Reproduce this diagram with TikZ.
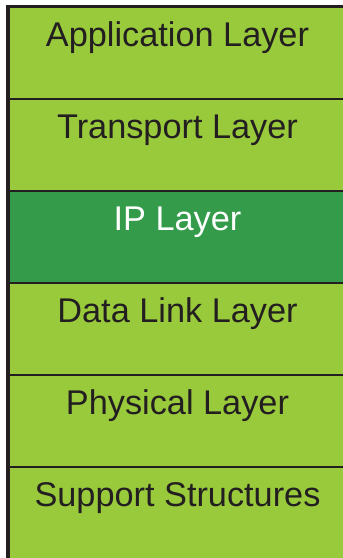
\documentclass[tikz,border=0pt]{standalone}
\usepackage{fontspec}
\setmainfont{Liberation Sans}
\usetikzlibrary{positioning}
\definecolor{layergreen}{RGB}{153,202,60}
\definecolor{ipgreen}{RGB}{51,155,74}
\definecolor{inkline}{RGB}{35,31,32}
\begin{document}
\begin{tikzpicture}[x=1pt,y=1pt,
    layer/.style={draw=inkline, line width=1.5pt, fill=layergreen, rectangle,
      minimum width=345pt, minimum height=92pt, outer sep=0pt, inner sep=0pt},
    layertext/.style={text=inkline, font=\fontsize{34.3}{40}\selectfont, inner sep=0pt, anchor=base},
    node distance=0pt]
    \useasboundingbox (0,0) rectangle (343,-558);
    \begin{scope}
    \clip (0,0) rectangle (343,-558);
    % Schichten
    \node[layer, anchor=north west] (app) at (8,-7) {};
    \node[layer, below=of app] (trans) {};
    \node[layer, below=of trans, fill=ipgreen] (ip) {};
    \node[layer, below=of ip] (link) {};
    \node[layer, below=of link] (phys) {};
    \node[layer, below=of phys] (supp) {};
    % Rahmen
    \draw[inkline, line width=4pt] (app.north west) ++(0,1.5) -- (supp.south west);
    \draw[inkline, line width=3pt] ([xshift=-2pt]app.north west) ++(0,0.5) -- ([yshift=0.5pt]app.north east);
    \end{scope}
    % Beschriftung
    \node[layertext] (apptext) at ([xshift=-3pt,yshift=-39pt]app.north) {Application Layer};
    \node[layertext] (transtext) at ([xshift=-3pt,yshift=-39pt]trans.north) {Transport Layer};
    \node[layertext, text=white] (iptext) at ([xshift=-3pt,yshift=-39pt]ip.north) {IP Layer};
    \node[layertext] (linktext) at ([xshift=-3pt,yshift=-39pt]link.north) {Data Link Layer};
    \node[layertext] (physttext) at ([xshift=-3pt,yshift=-39pt]phys.north) {Physical Layer};
    \node[layertext] (supptext) at ([xshift=-3pt,yshift=-39pt]supp.north) {Support Structures};
\end{tikzpicture}
\end{document}
